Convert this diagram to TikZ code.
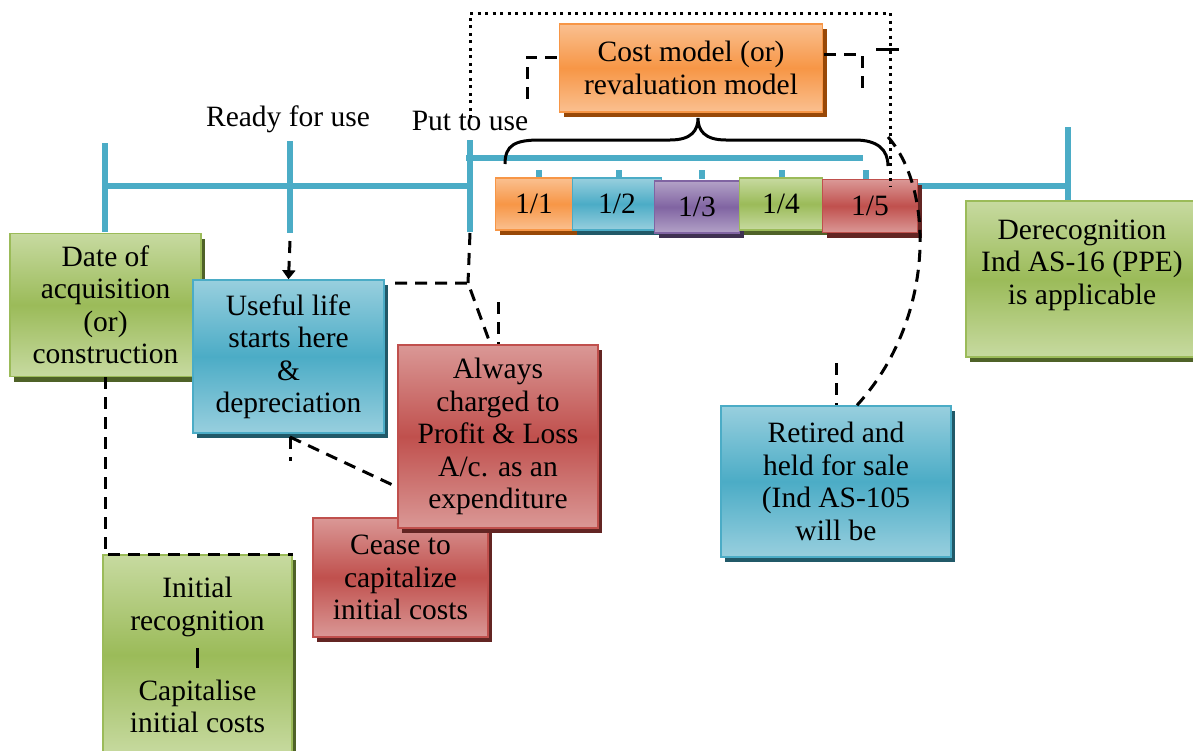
\documentclass[tikz,border=0pt]{standalone}
\usepackage{fontspec}
\setmainfont{Liberation Serif}
\usetikzlibrary{shadows,arrows.meta}
\definecolor{gB}{HTML}{9BBB59}\definecolor{gL}{HTML}{C7DAA0}\definecolor{gD}{HTML}{4F6228}
\definecolor{bB}{HTML}{4BACC6}\definecolor{bL}{HTML}{98CFDE}\definecolor{bD}{HTML}{215968}
\definecolor{rB}{HTML}{C0504D}\definecolor{rL}{HTML}{DA9896}\definecolor{rD}{HTML}{632523}
\definecolor{oB}{HTML}{F79646}\definecolor{oL}{HTML}{FAC090}\definecolor{oD}{HTML}{984807}
\definecolor{pB}{HTML}{8064A2}\definecolor{pL}{HTML}{B3A2C7}\definecolor{pD}{HTML}{3F3151}
\definecolor{tlc}{HTML}{4BACC6}
\tikzset{
  txt/.style={font=\fontsize{29.5}{32.5}\selectfont, align=center, inner sep=0pt},
  box/.style={txt, draw=#1B, line width=1.5pt, rectangle,
    top color=#1L, bottom color=#1L, middle color=#1B,
    drop shadow={shadow xshift=4pt, shadow yshift=-5pt, fill=#1D, opacity=1}},
  tl/.style={draw=tlc, line width=6pt},
  dsh/.style={draw=black, line width=3pt, dash pattern=on 12pt off 8pt},
  dotline/.style={draw=black, line width=3pt, dash pattern=on 3pt off 4.5pt},
}
\begin{document}
\begin{tikzpicture}[x=1pt,y=-1pt]
\useasboundingbox (0,0) rectangle (1193,750);
% timeline
\draw[tl] (105,186) -- (470,186);
\draw[tl] (105,143) -- (105,232);
\draw[tl] (290,141) -- (290,233);
\draw[tl] (470,140) -- (470,232);
\draw[tl] (466,158) -- (863,158);
\foreach \x in {539,619,702,782,866} \draw[tl] (\x,170) -- (\x,179);
\draw[tl] (918,186) -- (1068,186);
\draw[tl] (1068,127) -- (1068,201);
% labels
\node[txt] (ready) at (288,119) {Ready for use};
\node[txt] (put) at (470,121) {Put to use};
% period boxes
\node[box=o, minimum width=77pt, minimum height=52pt] (p1) at (534,204) {\raisebox{-6pt}{1/1}};
\node[box=b, minimum width=89pt, minimum height=52pt] (p2) at (617,204) {\raisebox{-3pt}{1/2}};
\node[box=p, minimum width=85pt, minimum height=52pt] (p3) at (697,207) {\raisebox{-3pt}{1/3}};
\node[box=g, minimum width=83pt, minimum height=52pt] (p4) at (781,204) {\raisebox{-3pt}{1/4}};
\node[box=r, minimum width=95pt, minimum height=53pt] (p5) at (870,206) {\raisebox{-3pt}{1/5}};
% cost model
\node[box=o, minimum width=263pt, minimum height=88pt] (cost) at (691,68) {Cost model (or)\\revaluation model};
% brace
\draw[line width=3pt] (505,164) .. controls (505,145) and (515,140) .. (540,140) -- (670,140)
  .. controls (692,140) and (698,130) .. (698,118)
  .. controls (698,130) and (704,140) .. (726,140) -- (855,140)
  .. controls (878,140) and (888,150) .. (888,166);
% boxes
\node[box=g, minimum width=191pt, minimum height=143pt] (date) at (105.5,305) {Date of\\acquisition\\(or)\\construction};
\node[box=b, minimum width=191pt, minimum height=153pt] (useful) at (288.5,356.5) {Useful life\\starts here\\\&\\depreciation};
\node[box=r, minimum width=175pt, minimum height=119pt] (cease) at (400.5,577.5) {Cease to\\capitalize\\initial costs};
\node[box=r, minimum width=200pt, minimum height=183pt] (always) at (498,436.5) {Always\\charged to\\Profit \& Loss\\A/c. as an\\expenditure};
\node[box=g, minimum width=189pt, minimum height=200pt] (initial) at (197.5,655) {Initial\\recognition\\[2pt]\rule[-3pt]{3pt}{20pt}\\[3pt]Capitalise\\initial costs};
\node[box=b, minimum width=230pt, minimum height=151pt] (retired) at (836,481.5) {Retired and\\held for sale\\(Ind AS-105\\will be};
\node[box=g, minimum width=240pt, minimum height=156pt] (derbox) at (1086,279) {};
\node[txt] (dertext) at (1082,265) {Derecognition\\Ind AS-16 (PPE)\\is applicable};
% dashed connectors
\coordinate (a1) at (290,241);
\draw[dsh, -{Triangle[width=13pt,length=9pt]}] (a1) -- (useful.north);
\coordinate (u1) at (395,283); \coordinate (u2) at (468,283); \coordinate (u3) at (490,343);
\draw[dsh] (u1) -- (u2) -- (u3);
\coordinate (pt1) at (470,233);
\draw[dsh] (pt1) -- (u2);
\coordinate (v1) at (498,302); \coordinate (v2) at (498,344);
\draw[dsh] (v1) -- (v2);
\coordinate (ub) at (290,437); \coordinate (ub2) at (290,461); \coordinate (al) at (397,487);
\draw[dsh] (ub) -- (al);
\draw[dsh] (ub) -- (ub2);
\coordinate (d1) at (105,377); \coordinate (d2) at (105,554); \coordinate (d3) at (293,554);
\draw[dsh] (d1) -- (d2) -- (d3);
\coordinate (c1) at (527,99); \coordinate (c2) at (527,57);
\draw[dsh] (c1) -- (c2) -- (cost.west |- c2);
\coordinate (c3) at (824,54); \coordinate (c4) at (862,54); \coordinate (c5) at (862,95);
\draw[dsh] (c3) -- (c4) -- (c5);
\coordinate (s1) at (876,49); \coordinate (s2) at (899,49);
\draw[line width=3pt] (s1) -- (s2);
\coordinate (r0) at (888,137);
\draw[dsh] (r0) .. controls (935,190) and (935,320) .. (retired.north -| 857,0);
\coordinate (rv1) at (836,363);
\draw[dsh] (rv1) -- (retired.north);
% dotted frame
\coordinate (f1) at (470,118); \coordinate (f2) at (470,13); \coordinate (f3) at (890,13); \coordinate (f4) at (890,186);
\draw[dotline] (f1) -- (f2) -- (f3) -- (f4);
\end{tikzpicture}
\end{document}
